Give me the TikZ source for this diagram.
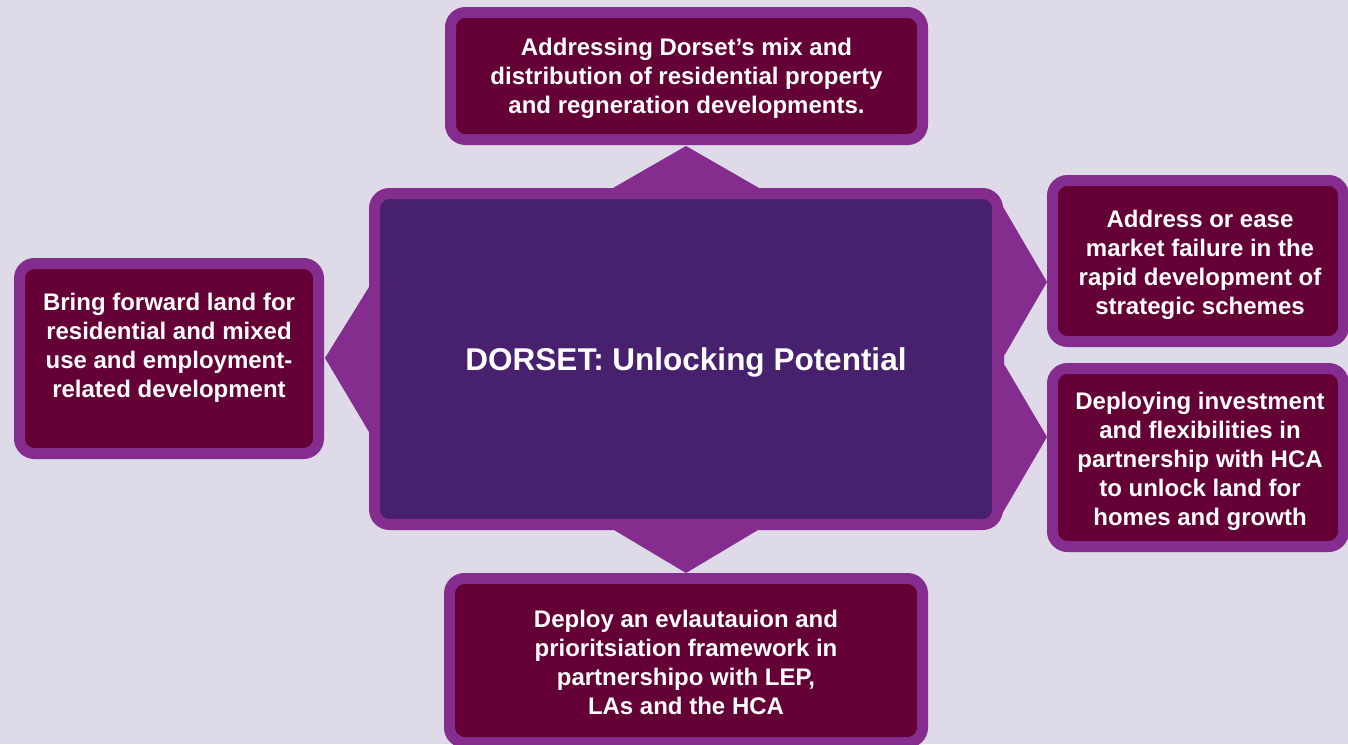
\documentclass[tikz,border=0pt]{standalone}
\usepackage{fontspec}
\setmainfont{Liberation Sans}
\definecolor{bgc}{HTML}{DEDAE8}
\definecolor{rimc}{HTML}{852C8F}
\definecolor{maroonc}{HTML}{640035}
\definecolor{corec}{HTML}{47206E}
\tikzset{
  boxbase/.style={draw=rimc, line width=11pt, rounded corners=15pt, inner sep=0pt},
  sidebox/.style={boxbase, fill=maroonc},
  corebox/.style={boxbase, fill=corec},
  txt/.style={text=white, align=center, inner sep=0pt, font=\bfseries\fontsize{24}{29}\selectfont},
  titletxt/.style={txt, font=\bfseries\fontsize{31.5}{36}\selectfont},
  pointer/.style={fill=rimc}
}
\begin{document}
\begin{tikzpicture}[x=1pt,y=-1pt]
\useasboundingbox (0,0) rectangle (1348,744);
\clip (0,0) rectangle (1348,744);
\fill[bgc] (0,0) rectangle (1348,744);
% pointers of the central box
\fill[pointer] (613,200) -- (613,188) -- (686,146) -- (759,188) -- (759,200) -- cycle;
\fill[pointer] (614,520) -- (614,530) -- (686,573) -- (758,530) -- (758,520) -- cycle;
\fill[pointer] (380,287) -- (369,287) -- (325,358) -- (369,432) -- (380,432) -- cycle;
\fill[pointer] (980,200) -- (995,193) -- (1047,282) -- (1004,356) -- (1004,364) -- (1047,437) -- (995,526) -- (980,520) -- cycle;
% central box
\node[corebox, minimum width=623pt, minimum height=331pt] (core) at (686,359) {};
\node[titletxt] (coretext) at (686,362) {DORSET: Unlocking Potential};
% satellite boxes
\node[sidebox, minimum width=472pt, minimum height=127pt] (top) at (686.5,76) {};
\node[txt] (toptext) at (686.5,78)
  {Addressing Dorset’s mix and\\distribution of residential property\\and regneration developments.};
\node[sidebox, minimum width=299pt, minimum height=190pt] (left) at (169,358.5) {};
\node[txt] (lefttext) at (169,348)
  {Bring forward land for\\residential and mixed\\use and employment-\\related development};
\node[sidebox, minimum width=291pt, minimum height=161pt] (rightA) at (1198,261) {};
\node[txt] (rightAtext) at (1200,264.5)
  {Address or ease\\market failure in the\\rapid development of\\strategic schemes};
\node[sidebox, minimum width=291pt, minimum height=178pt] (rightB) at (1198,457.5) {};
\node[txt] (rightBtext) at (1200,461)
  {Deploying investment\\and flexibilities in\\partnership with HCA\\to unlock land for\\homes and growth};
\node[sidebox, minimum width=473pt, minimum height=164pt] (bottom) at (686,660.5) {};
\node[txt] (bottomtext) at (686,662.5)
  {Deploy an evlautauion and\\prioritsiation framework in\\partnershipo with LEP,\\LAs and the HCA};
\end{tikzpicture}
\end{document}
